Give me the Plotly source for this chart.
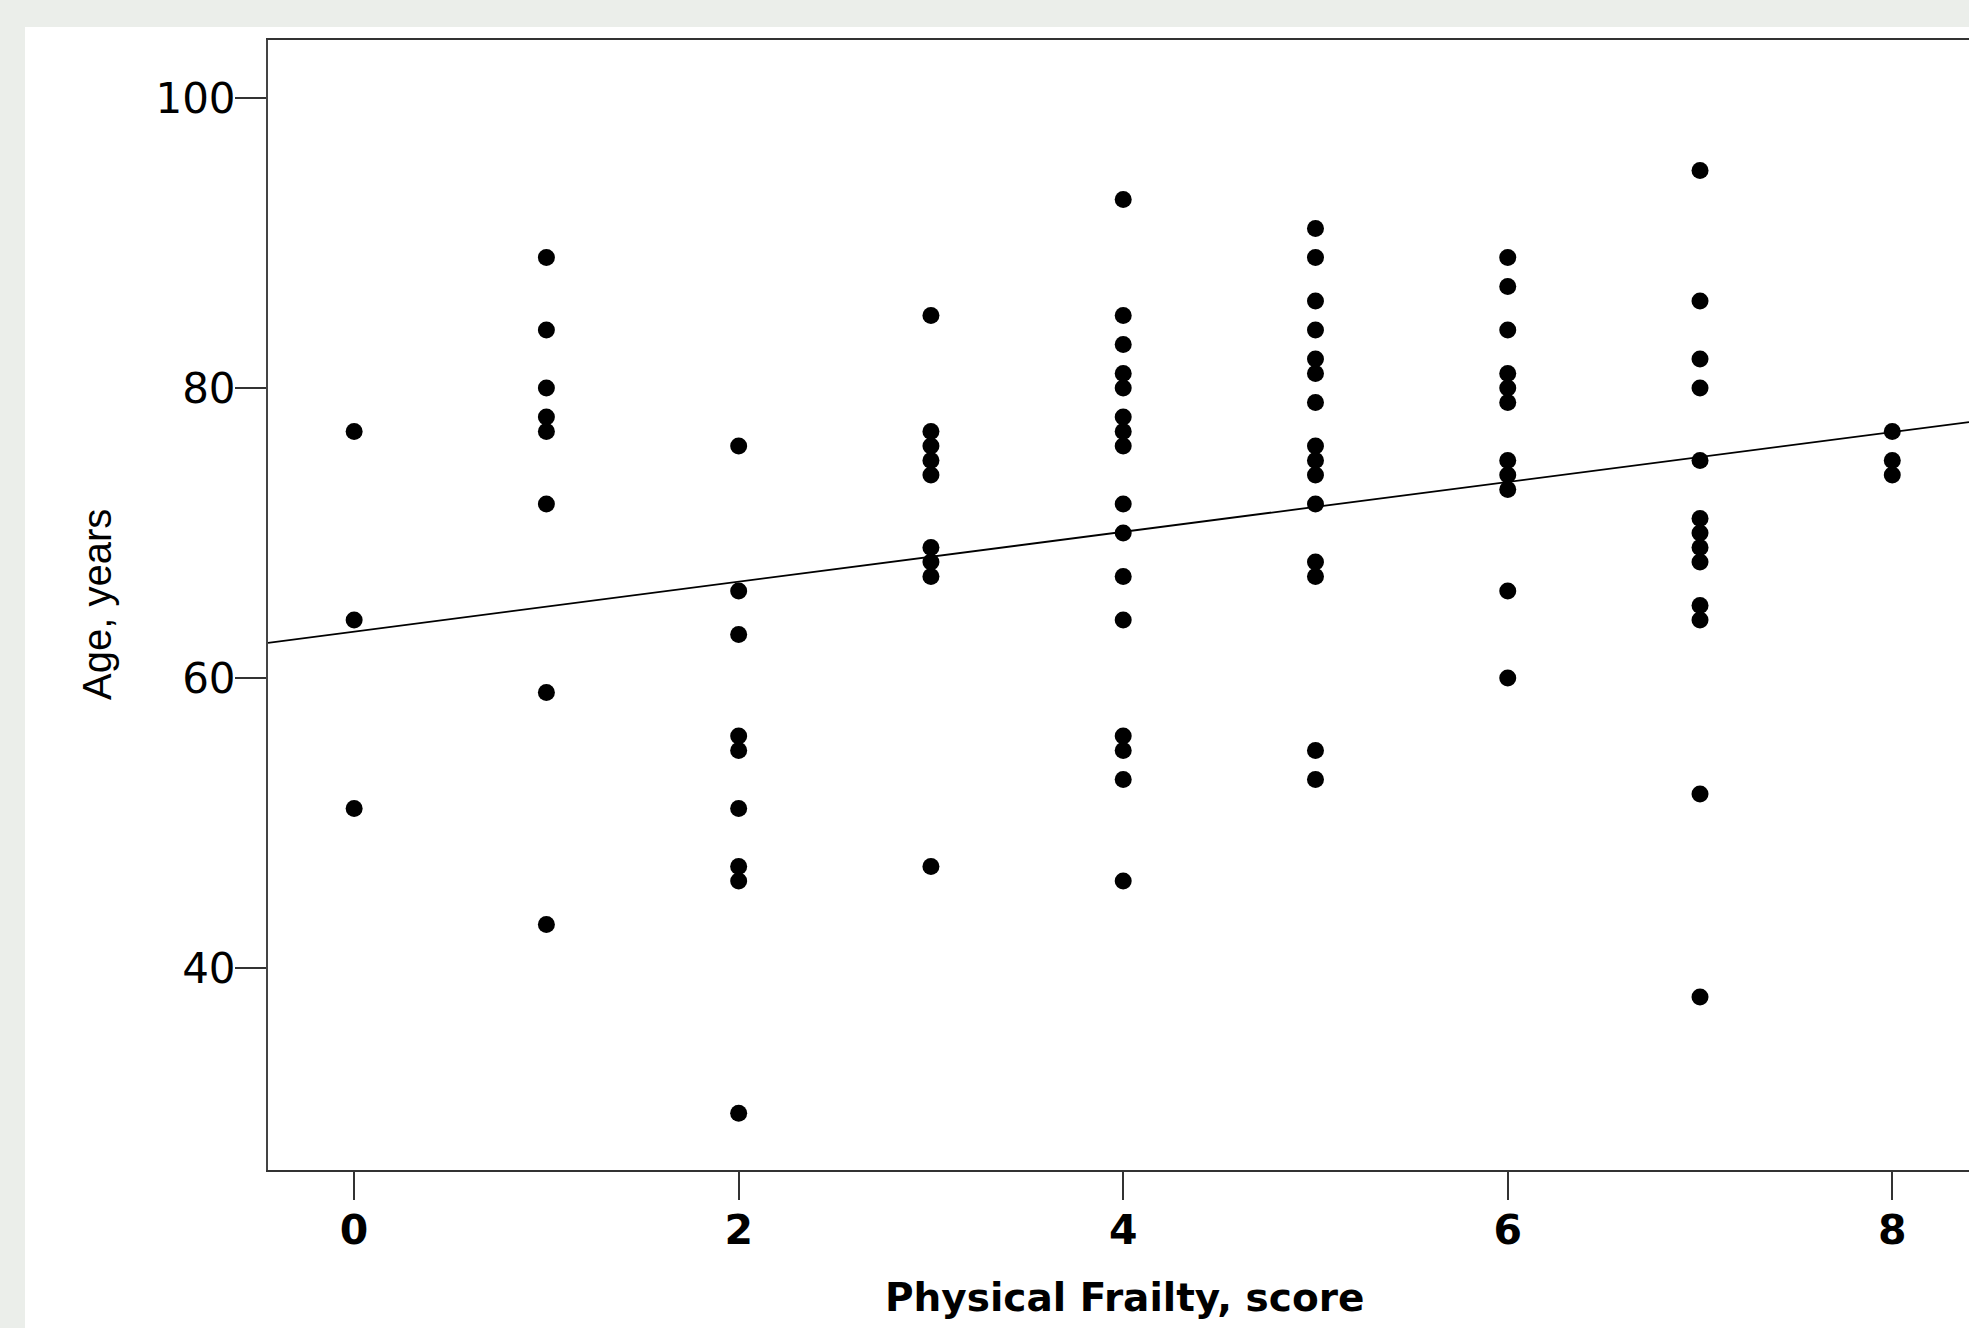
import plotly.graph_objects as go

# ---- data ----
frailty_scores = [0, 1, 2, 3, 4, 5, 6, 7, 8]
ages_by_score = {
    0: [77, 64, 51],
    1: [89, 84, 80, 78, 77, 72, 59, 43],
    2: [76, 66, 63, 56, 55, 51, 47, 46, 30],
    3: [85, 77, 76, 75, 74, 69, 68, 67, 47],
    4: [93, 85, 83, 81, 80, 78, 77, 76, 72, 70, 67, 64, 56, 55, 53, 46],
    5: [91, 89, 86, 84, 82, 81, 79, 76, 75, 74, 72, 68, 67, 55, 53],
    6: [89, 87, 84, 81, 80, 79, 75, 74, 73, 66, 60],
    7: [95, 86, 82, 80, 75, 71, 70, 69, 68, 65, 64, 52, 38],
    8: [77, 75, 74],
}
fit_intercept = 63.2
fit_slope = 1.72

x_tick_vals = [0, 2, 4, 6, 8]
y_tick_vals = [40, 60, 80, 100]
x_range = [-0.448, 8.399]
y_range = [26.08, 103.99]

xs, ys = [], []
for s in frailty_scores:
    for a in ages_by_score[s]:
        xs.append(s)
        ys.append(a)

line_x = x_range
line_y = [fit_intercept + fit_slope * v for v in line_x]

fig = go.Figure()
fig.add_trace(go.Scatter(
    x=line_x, y=line_y, mode="lines",
    line=dict(color="black", width=1.8),
    hoverinfo="skip", showlegend=False,
))
fig.add_trace(go.Scatter(
    x=xs, y=ys, mode="markers",
    marker=dict(color="black", size=17, symbol="circle", line=dict(width=0)),
    showlegend=False,
))

W, H = 1969, 1328
ml, mt, mb, mr = 268, 40, 158, 0
pw, ph = W - ml - mr, H - mt - mb

# white page area inside light grey frame
fig.add_shape(
    type="rect", xref="paper", yref="paper", layer="below",
    x0=(25 - ml) / pw, x1=1.0 + 5 / pw,
    y0=-(mb + 5) / ph, y1=1 + (mt - 27) / ph,
    fillcolor="white", line=dict(width=0),
)

fig.update_layout(
    width=W, height=H, autosize=False,
    margin=dict(l=ml, r=mr, t=mt, b=mb, pad=0),
    paper_bgcolor="#EBEEEA",
    plot_bgcolor="white",
    font=dict(family="DejaVu Sans, Liberation Sans, Arial", color="black"),
    xaxis=dict(
        range=x_range, tickvals=x_tick_vals, ticks="outside", ticklen=28,
        tickwidth=2, tickcolor="#333333", ticklabelstandoff=-5,
        showline=True, linecolor="#333333", linewidth=2, mirror=True,
        showgrid=False, zeroline=False,
        tickfont=dict(size=41, family="DejaVu Sans", weight="bold", color="black"),
    ),
    yaxis=dict(
        range=y_range, tickvals=y_tick_vals, ticks="outside", ticklen=31,
        tickwidth=2, tickcolor="#333333", ticklabelstandoff=-9,
        showline=True, linecolor="#444444", linewidth=2, mirror=False,
        showgrid=False, zeroline=False,
        tickfont=dict(size=42, family="DejaVu Sans", color="black"),
    ),
    annotations=[
        dict(text="Physical Frailty, score", xref="paper", yref="paper",
             x=(1124 - ml) / pw, y=0, xanchor="center", yanchor="middle",
             yshift=-127, showarrow=False,
             font=dict(size=39, family="DejaVu Sans", weight="bold", color="black")),
        dict(text="Age, years", xref="paper", yref="paper",
             x=0, y=0.5, xanchor="center", yanchor="middle", xshift=-171,
             textangle=-90, showarrow=False,
             font=dict(size=40, family="Liberation Sans, Arial", color="black")),
    ],
)

fig.write_html(
    "out.html",
    config={"displayModeBar": False},
    post_script="document.body.style.margin='0';document.body.style.padding='0';"
                "document.body.style.overflow='hidden';",
)
